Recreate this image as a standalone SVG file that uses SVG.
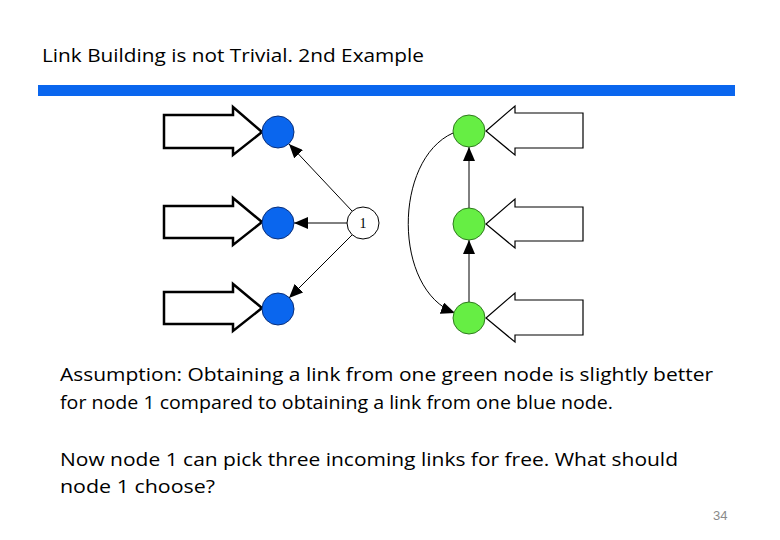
<svg xmlns="http://www.w3.org/2000/svg" width="780" height="540" viewBox="0 0 780 540">
  <defs>
    <marker id="ah" markerUnits="userSpaceOnUse" markerWidth="15" markerHeight="12" refX="14" refY="6" orient="auto">
      <path d="M0,0 L14,6 L0,12 z" fill="#000"/>
    </marker>
  </defs>
  <style>
    .txt { font-family: "Open Sans", "Liberation Sans", Arial, sans-serif; fill: #000; }
    .title { font-size: 19px; }
    .body { font-size: 18px; }
    .pnum { font-family: "Liberation Sans", Arial, sans-serif; font-size: 13px; fill: #8a8a8a; }
    .blue { fill: #0a66ee; stroke: #0a2f7a; stroke-width: 1; }
    .green { fill: #66ee44; stroke: #2f7a1e; stroke-width: 1; }
    .white { fill: #fff; stroke: #000; stroke-width: 1; }
    .thick { fill: #fff; stroke: #000; stroke-width: 2.5; stroke-linejoin: miter; }
    .thin { fill: #fff; stroke: #000; stroke-width: 1.2; stroke-linejoin: miter; }
    .edge { fill: none; stroke: #000; stroke-width: 1; marker-end: url(#ah); }
    .lbl { font-family: "Liberation Serif", "Times New Roman", serif; font-size: 14px; fill: #000; }
  </style>
  <rect width="780" height="540" fill="#fff"/>

  <g id="title">
    <text class="txt title" x="42" y="62" textLength="382" lengthAdjust="spacingAndGlyphs">Link Building is not Trivial. 2nd Example</text>
    <rect x="38" y="85" width="697" height="11" fill="#0a66ee"/>
  </g>

  <g id="inflow-blue">
    <polygon class="thick" points="164,115 233,115 233,107 262,132 233,155 233,148 164,148"/>
    <polygon class="thick" points="164,206 233,206 233,198 262,222 233,245 233,238 164,238"/>
    <polygon class="thick" points="164,292 233,292 233,284 262,308 233,331 233,324 164,324"/>
  </g>

  <g id="inflow-green">
    <polygon class="thin" points="583,113 515,113 515,106 486,131 515,155 515,148 583,148"/>
    <polygon class="thin" points="583,207 515,207 515,199 486,224 515,248 515,241 583,241"/>
    <polygon class="thin" points="583,300 515,300 515,293 486,318 515,342 515,335 583,335"/>
  </g>

  <g id="connectors">
    <line class="edge" x1="352" y1="211" x2="289" y2="144"/>
    <line class="edge" x1="347" y1="223" x2="294" y2="223"/>
    <line class="edge" x1="352" y1="235" x2="289" y2="298"/>
    <line class="edge" x1="469" y1="208" x2="469" y2="147"/>
    <line class="edge" x1="469" y1="302" x2="469" y2="240"/>
    <path class="edge" d="M453,133 C393,160 393,290 455,313"/>
  </g>

  <g id="blue1"><circle class="blue" cx="278" cy="132" r="16"/></g>
  <g id="blue2"><circle class="blue" cx="278" cy="223" r="16"/></g>
  <g id="blue3"><circle class="blue" cx="278" cy="309" r="16"/></g>

  <g id="node1">
    <circle class="white" cx="363" cy="223" r="16"/>
    <text class="lbl" x="363" y="228" text-anchor="middle">1</text>
  </g>

  <g id="green1"><circle class="green" cx="469" cy="131" r="16"/></g>
  <g id="green2"><circle class="green" cx="469" cy="224" r="16"/></g>
  <g id="green3"><circle class="green" cx="469" cy="318" r="16"/></g>

  <g id="body">
    <text class="txt body" x="60" y="381" textLength="653" lengthAdjust="spacingAndGlyphs">Assumption: Obtaining a link from one green node is slightly better</text>
    <text class="txt body" x="60" y="409" textLength="553" lengthAdjust="spacingAndGlyphs">for node 1 compared to obtaining a link from one blue node.</text>
    <text class="txt body" x="60" y="466" textLength="618" lengthAdjust="spacingAndGlyphs">Now node 1 can pick three incoming links for free. What should</text>
    <text class="txt body" x="60" y="493" textLength="155" lengthAdjust="spacingAndGlyphs">node 1 choose?</text>
  </g>

  <text class="pnum" x="713" y="520">34</text>
</svg>
